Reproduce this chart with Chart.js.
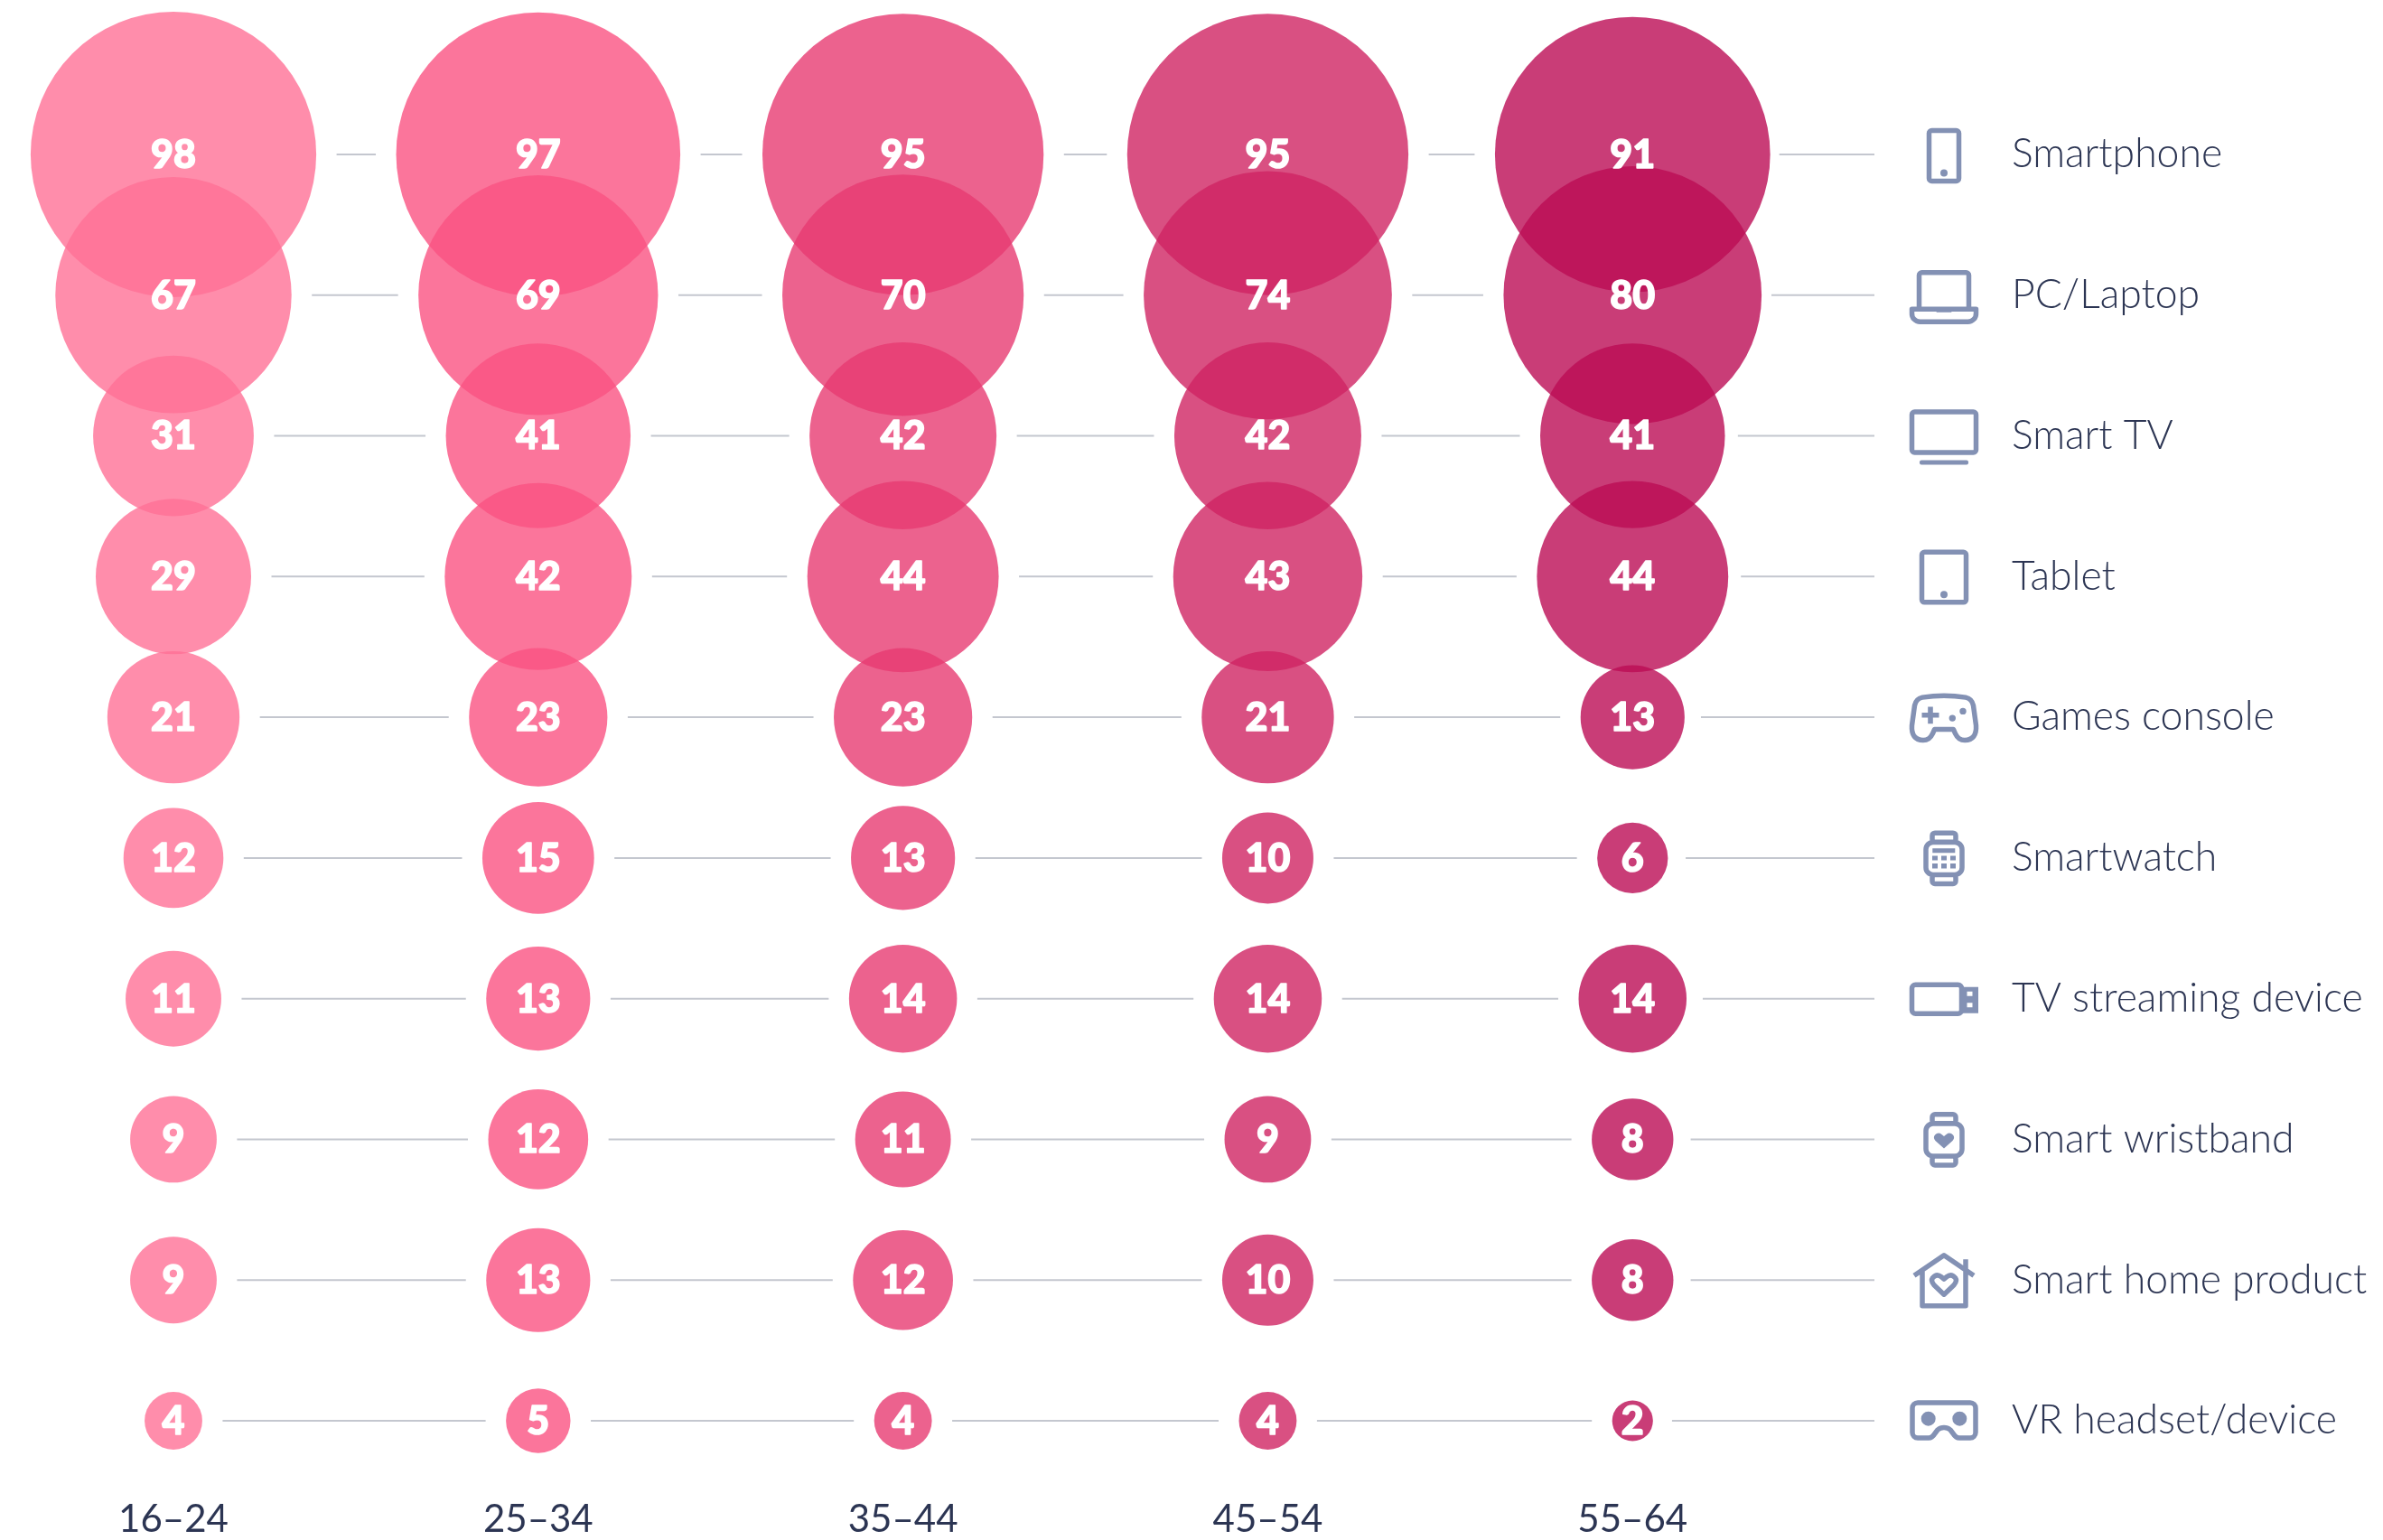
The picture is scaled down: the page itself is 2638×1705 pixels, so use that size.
<!DOCTYPE html>
<html lang="en">
<head>
<meta charset="UTF-8">
<title>Devices owned by age group</title>
<script src="https://cdn.jsdelivr.net/npm/chart.js"></script>
<style>
    html, body { margin: 0; background: #fff; }
    canvas { display: block; }
</style>
</head>
<body>
<canvas id="chart" width="2638" height="1705"></canvas>
<script>
const ageGroups = ['16–24', '25–34', '35–44', '45–54', '55–64'];
const devices = ['Smartphone', 'PC/Laptop', 'Smart TV', 'Tablet', 'Games console', 'Smartwatch',
    'TV streaming device', 'Smart wristband', 'Smart home product', 'VR headset/device'];

const age16to24 = [98, 67, 31, 29, 21, 12, 11, 9, 9, 4];
const age25to34 = [97, 69, 41, 42, 23, 15, 13, 12, 13, 5];
const age35to44 = [95, 70, 42, 44, 23, 13, 14, 11, 12, 4];
const age45to54 = [95, 74, 42, 43, 21, 10, 14, 9, 10, 4];
const age55to64 = [91, 80, 41, 44, 13, 6, 14, 8, 8, 2];
const seriesValues = [age16to24, age25to34, age35to44, age45to54, age55to64];

const seriesColors = ['rgba(255,112,150,0.8)', 'rgba(250,82,130,0.8)', 'rgba(231,59,114,0.8)',
    'rgba(207,36,99,0.8)', 'rgba(188,12,85,0.8)'];

// bubble area follows the value
const radiusPerRoot = 15.97;
const lineGap = 22.5;
const iconColor = '#8391b4';
const textColor = '#2c3553';

function rr(x, y, w, h, r) {
    return `M${x + r} ${y}h${w - 2 * r}a${r} ${r} 0 0 1 ${r} ${r}v${h - 2 * r}a${r} ${r} 0 0 1 ${-r} ${r}` +
        `h${-(w - 2 * r)}a${r} ${r} 0 0 1 ${-r} ${-r}v${-(h - 2 * r)}a${r} ${r} 0 0 1 ${r} ${-r}z`;
}
function dot(x, y, r) {
    return `M${x - r} ${y}a${r} ${r} 0 1 0 ${2 * r} 0a${r} ${r} 0 1 0 ${-2 * r} 0z`;
}
const watchFrame = rr(-20, -17.5, 40, 36, 8) + rr(-13, -27.7, 26, 10, 3) + rr(-13, 18.5, 26, 10, 3);

// icon outlines, centred on the row
const deviceIcons = [
    { stroke: rr(-16.5, -26.5, 33, 56, 3), fill: dot(0, 20.5, 4) },
    { stroke: 'M-27.5 14V-22a3 3 0 0 1 3-3H24.5a3 3 0 0 1 3 3V14M-35.5 15.5H35.5V20a9 9 0 0 1-9 9.5H-26.5a9 9 0 0 1-9-9.5Z',
      fill: 'M-11 15.5h22l-3 3.5h-16z' },
    { stroke: rr(-35.5, -26.5, 71, 45, 3), fill: rr(-27, 27, 54, 5, 2) },
    { stroke: rr(-24.5, -27, 49, 55.5, 3), fill: dot(0, 20, 4) },
    { stroke: 'M-24-22Q0-25.5 24-22Q31-20.5 32.5-13L35.5 9Q36.5 25 23 25.5Q16 25.5 12.5 18L10.5 13.5H-10.5L-12.5 18Q-16 25.5-23 25.5Q-36.5 25-35.5 9L-32.5-13Q-31-20.5-24-22Z',
      fill: 'M-24.5-5h6.7v-6.7h5.6v6.7h6.7v5.5h-6.7v6.7h-5.6v-6.7h-6.7z' + dot(9.3, 1, 3.7) + dot(21, -6.7, 3.7) },
    { stroke: watchFrame,
      fill: 'M-12.7-10.7h25v5h-25zM-13-2.3h6v5h-6zM-3-2.3h6v5h-6zM7-2.3h6v5h-6zM-13 6h6v5.5h-6zM-3 6h6v5.5h-6zM7 6h6v5.5h-6z' },
    { stroke: rr(-35.5, -15.5, 55, 32, 4),
      fill: 'M19-13h19v29h-19zM25.500 -8v5h6v-5zM25.500 4.500v5h6v-5z' },
    { stroke: watchFrame,
      fill: 'M0 10L-9.500 1.500Q-12.500-2-10-5Q-6.500-8.500-2.500-5.500L0-3.500L2.500-5.500Q6.500-8.500 10-5Q12.500-2 9.500 1.500Z' },
    { stroke: 'M-33-5L0-27.500L33-5M-24-10V28.500H24V-23M0 16L-11 5.500Q-15 1-12.500-2.500Q-8-7.500-3-3.500L0-1L3-3.500Q8-7.500 12.500-2.500Q15 1 11 5.500Z', fill: '' },
    { stroke: 'M-29-20H29a6 6 0 0 1 6 6V13a6 6 0 0 1-6 6H17Q13 19 10 14L7 10Q4 7.500 0 7.500Q-4 7.500-7 10L-10 14Q-13 19-17 19H-29a6 6 0 0 1-6-6V-14a6 6 0 0 1 6-6Z',
      fill: dot(-17.3, -2.3, 8) + dot(17.3, -2.3, 8) }
];

const connectorLines = {
    id: 'connectorLines',
    beforeDatasetsDraw(chart) {
        const ctx = chart.ctx;
        ctx.save();
        ctx.strokeStyle = '#c4c7cf';
        ctx.lineWidth = 2;
        devices.forEach((device, row) => {
            seriesValues.forEach((values, col) => {
                const el = chart.getDatasetMeta(col).data[row];
                const r = el.options.radius;
                const next = col < seriesValues.length - 1 ? chart.getDatasetMeta(col + 1).data[row] : null;
                // the stub running out to the icons sits closer to the big bubbles
                const start = el.x + r + (next ? lineGap : 23 - 0.085 * r);
                const end = next ? next.x - next.options.radius - lineGap : chart.chartArea.right;
                ctx.beginPath();
                ctx.moveTo(start, el.y);
                ctx.lineTo(end, el.y);
                ctx.stroke();
            });
        });
        ctx.restore();
    }
};

const valueLabels = {
    id: 'valueLabels',
    afterDatasetsDraw(chart) {
        const ctx = chart.ctx;
        ctx.save();
        ctx.fillStyle = '#fff';
        ctx.strokeStyle = '#fff';
        ctx.lineWidth = 1.5;
        ctx.lineJoin = 'round';
        ctx.font = '900 43px Lato';
        ctx.textAlign = 'center';
        ctx.textBaseline = 'middle';
        seriesValues.forEach((values, col) => {
            chart.getDatasetMeta(col).data.forEach((el, row) => {
                ctx.fillText(values[row], el.x, el.y + 1);
                ctx.strokeText(values[row], el.x, el.y + 1);
            });
        });
        ctx.restore();
    }
};

const rowIcons = {
    id: 'rowIcons',
    afterDraw(chart) {
        const ctx = chart.ctx;
        const yScale = chart.scales.y;
        ctx.save();
        ctx.strokeStyle = iconColor;
        ctx.fillStyle = iconColor;
        ctx.lineWidth = 5.5;
        ctx.lineJoin = 'round';
        deviceIcons.forEach((icon, row) => {
            ctx.save();
            ctx.translate(chart.chartArea.right + 77, yScale.getPixelForValue(devices[row]));
            ctx.stroke(new Path2D(icon.stroke));
            if (icon.fill) ctx.fill(new Path2D(icon.fill), 'evenodd');
            ctx.restore();
        });
        ctx.restore();
    }
};

new Chart(document.getElementById('chart'), {
    type: 'bubble',
    data: {
        datasets: ageGroups.map((age, col) => ({
            label: age,
            data: devices.map((device, row) => ({
                x: col,
                y: device,
                r: radiusPerRoot * Math.sqrt(seriesValues[col][row])
            })),
            backgroundColor: seriesColors[col],
            borderWidth: 0,
            clip: false
        }))
    },
    plugins: [connectorLines, valueLabels, rowIcons],
    options: {
        responsive: false,
        animation: false,
        events: [],
        // autoPadding would reserve the largest bubble radius on every side
        layout: { autoPadding: false, padding: { left: 192, top: 171, right: 0, bottom: 0 } },
        plugins: { legend: { display: false }, tooltip: { enabled: false } },
        scales: {
            x: {
                type: 'linear',
                min: 0,
                max: 4.663,
                grid: { color: 'transparent' },
                border: { color: 'transparent' },
                // tick padding would otherwise push the plot area in
                afterFit(scale) { scale.height = 132; scale.paddingLeft = 0; scale.paddingRight = 0; },
                ticks: {
                    stepSize: 1,
                    includeBounds: false,
                    padding: 76,
                    color: textColor,
                    font: { family: 'Lato', size: 42, weight: '400' },
                    callback: value => ageGroups[value]
                }
            },
            y: {
                type: 'category',
                labels: devices,
                position: 'right',
                grid: { color: 'transparent', drawTicks: false },
                border: { color: 'transparent' },
                afterFit(scale) { scale.width = 563; scale.paddingTop = 0; scale.paddingBottom = 0; },
                ticks: {
                    padding: 152,
                    autoSkip: false,
                    color: textColor,
                    font: { family: 'Lato', size: 44.5, weight: '300' }
                }
            }
        }
    }
});
</script>
</body>
</html>
